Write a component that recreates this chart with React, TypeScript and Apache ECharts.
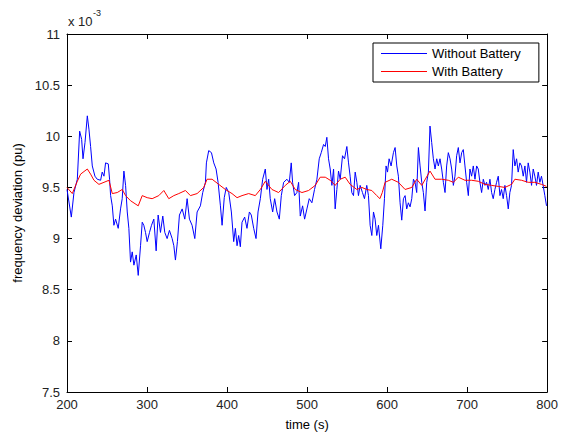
import React, { useEffect, useRef } from "react";
import * as echarts from "echarts";

const FONT = "'Liberation Sans', Arial, sans-serif";

const seriesNames = ["Without Battery", "With Battery"];
const xTicks = { min: 200, max: 800, interval: 100 };
const yTicks = { min: 7.5, max: 11, interval: 0.5 };

// time (s) and frequency deviation (x 10^-3 pu) – without battery
const blueTime = [
  200, 205.4, 208.7, 212.9, 215.8, 218.3, 220, 222.5, 225.4, 227.4, 229.5, 231.6, 234.9, 237.8, 242, 244,
  246.2, 248.2, 251.6, 253.2, 254.5, 256.6, 258.6, 260.7, 264, 266.9, 269, 271.1, 273.2, 275.3, 277.3, 279.4,
  281.5, 283.6, 286.5, 289, 291.9, 294, 296, 298.1, 300.2, 303.1, 305.6, 308.5, 311.4, 313.9, 316.8, 319.7,
  322.2, 325.1, 328, 331.4, 333.5, 335.5, 338, 340.5, 343.9, 347.2, 350.1, 353, 356.3, 359.7, 362.6, 366.7,
  369.6, 373, 374.2, 377.1, 380.5, 383.4, 386.3, 388.8, 391.7, 393.8, 396.5, 399, 402.1, 405.4, 408.3, 410.4,
  412.5, 414.5, 416.6, 418.7, 422, 424.9, 427.9, 430.3, 433.3, 436.2, 438.7, 441.6, 444.5, 447.8, 449.9, 452,
  454, 457, 459.5, 462.4, 465.3, 467.8, 470.7, 474.8, 477.8, 480.2, 481.9, 484.4, 487.3, 489.4, 491.5, 494.4,
  496.9, 499.8, 502.7, 506, 509.3, 512.3, 515.2, 517.7, 520.6, 522.7, 524.7, 526.8, 528.9, 531, 533.1, 535.1,
  537.2, 539.3, 541.4, 544.3, 546.8, 549.7, 551.8, 553.8, 555.9, 558, 560.1, 562.2, 564.2, 566.3, 569.2, 571.7,
  574.6, 576.7, 578.8, 580.9, 583, 585, 587.1, 589.2, 592.1, 594.6, 596.7, 598.7, 600.5, 602.5, 605, 607.9,
  610, 612.1, 614.1, 616.2, 618.3, 620.4, 622.5, 624.5, 626.6, 628.7, 630.8, 632.9, 634.9, 637, 639.1, 641.2,
  643.3, 645.3, 647.4, 649.5, 651.6, 653.6, 655.7, 657.8, 659.9, 662, 664, 666.1, 668.2, 670.3, 672.4, 674.4,
  676.5, 678.6, 680.7, 682.8, 684.8, 686.9, 689, 691.1, 693.2, 695.2, 697.3, 699.4, 701.5, 703.5, 705.6, 707.7,
  709.8, 711.9, 713.9, 716, 718.1, 720.2, 722.3, 724.3, 726.4, 728.5, 730.6, 732.6, 734.7, 736.8, 738.9, 741,
  743, 745.1, 747.2, 749.3, 751.4, 753.4, 755.5, 757.6, 759.7, 761.8, 763.8, 765.9, 768, 770.1, 772.2, 774.2,
  776.3, 778.4, 780.5, 782.6, 784.6, 786.7, 788.8, 790.9, 792.9, 795, 797.1, 799.2,
];
const blueValue = [
  9.48, 9.21, 9.45, 9.58, 10.05, 9.97, 9.78, 9.94, 10.2, 10.07, 9.9, 9.71, 9.61, 9.58, 9.57, 9.65,
  9.61, 9.74, 9.73, 9.58, 9.42, 9.32, 9.13, 9.19, 9.1, 9.29, 9.39, 9.66, 9.52, 9.26, 9.1, 8.77,
  8.87, 8.74, 8.84, 8.64, 8.93, 9.16, 9.13, 9.06, 8.97, 9.06, 9.13, 9.19, 8.88, 9.23, 9.06, 9.22,
  9.06, 9.0, 9.08, 9.0, 8.93, 8.79, 8.97, 9.23, 9.29, 9.19, 9.39, 9.19, 9.13, 9.0, 9.26, 9.32,
  9.45, 9.55, 9.74, 9.86, 9.84, 9.74, 9.68, 9.55, 9.32, 9.13, 9.4, 9.5, 9.45, 9.26, 8.97, 9.1,
  8.93, 9.03, 8.92, 9.16, 9.21, 9.1, 9.26, 9.23, 9.1, 9.0, 9.26, 9.39, 9.58, 9.68, 9.48, 9.58,
  9.39, 9.26, 9.39, 9.26, 9.19, 9.42, 9.55, 9.58, 9.55, 9.74, 9.55, 9.42, 9.45, 9.55, 9.22, 9.32,
  9.19, 9.29, 9.39, 9.35, 9.48, 9.58, 9.78, 9.84, 9.92, 9.9, 9.99, 9.78, 9.68, 9.52, 9.68, 9.29,
  9.48, 9.66, 9.58, 9.81, 9.78, 9.9, 9.74, 9.61, 9.45, 9.42, 9.65, 9.55, 9.42, 9.52, 9.45, 9.39,
  9.52, 9.42, 9.13, 9.03, 9.26, 9.19, 9.03, 9.13, 8.9, 9.13, 9.39, 9.71, 9.65, 9.78, 9.71, 9.84,
  9.89, 9.71, 9.61, 9.35, 9.18, 9.39, 9.42, 9.29, 9.35, 9.31, 9.39, 9.58, 9.55, 9.45, 9.89, 9.71,
  9.55, 9.45, 9.27, 9.55, 9.65, 10.1, 9.94, 9.78, 9.68, 9.78, 9.71, 9.78, 9.68, 9.55, 9.45, 9.71,
  9.84, 9.78, 9.68, 9.52, 9.61, 9.81, 9.89, 9.74, 9.84, 9.87, 9.71, 9.55, 9.42, 9.68, 9.61, 9.71,
  9.58, 9.71, 9.68, 9.55, 9.45, 9.58, 9.52, 9.55, 9.48, 9.58, 9.45, 9.39, 9.48, 9.55, 9.61, 9.42,
  9.48, 9.39, 9.52, 9.42, 9.29, 9.45, 9.52, 9.87, 9.71, 9.78, 9.65, 9.74, 9.71, 9.61, 9.71, 9.55,
  9.74, 9.65, 9.52, 9.68, 9.61, 9.52, 9.65, 9.55, 9.61, 9.52, 9.42, 9.32,
];

// with battery
const redTime = [
  200, 206.6, 212.9, 217, 225.4, 229.5, 233.7, 239.9, 246.2, 252.4, 256.6, 262.8, 269, 273.2, 279.4, 289,
  294, 300.2, 306.4, 314.7, 321, 327.2, 333.5, 339.7, 348, 354.2, 362.6, 370.9, 375, 381.3, 389.6, 397.9,
  406.2, 412.5, 418.7, 427, 435.3, 441.6, 447.8, 456.1, 464.4, 472.8, 479, 485.2, 493.6, 501.9, 510.2, 516.4,
  522.7, 528.9, 535.1, 541.4, 547.6, 553.8, 562.2, 568.4, 574.6, 580.9, 587.1, 591, 594, 597.5, 605.8, 614.1,
  622.5, 630.8, 637, 643.3, 653.6, 659.9, 668.2, 676.5, 682.8, 689, 697.3, 705.6, 713.9, 722.3, 730.6, 738.9,
  747.2, 755.5, 759.7, 768, 776.3, 784.6, 792.9, 799.2,
];
const redValue = [
  9.5, 9.44, 9.56, 9.63, 9.68, 9.63, 9.57, 9.53, 9.55, 9.57, 9.44, 9.45, 9.48, 9.42, 9.37, 9.32,
  9.42, 9.4, 9.39, 9.42, 9.47, 9.39, 9.42, 9.44, 9.47, 9.42, 9.44, 9.5, 9.58, 9.58, 9.53, 9.48,
  9.44, 9.4, 9.42, 9.44, 9.42, 9.48, 9.56, 9.48, 9.45, 9.52, 9.56, 9.48, 9.45, 9.47, 9.52, 9.6,
  9.6, 9.57, 9.52, 9.58, 9.6, 9.53, 9.48, 9.5, 9.48, 9.47, 9.42, 9.39, 9.45, 9.55, 9.58, 9.55,
  9.48, 9.5, 9.58, 9.52, 9.66, 9.58, 9.58, 9.57, 9.55, 9.6, 9.57, 9.57, 9.56, 9.53, 9.52, 9.51,
  9.5, 9.53, 9.58, 9.57, 9.55, 9.55, 9.53, 9.51,
];

const pairs = (t: number[], v: number[]) => t.map((x, i) => [x, v[i]]);

export default function App() {
  const ref = useRef<HTMLDivElement>(null);
  useEffect(() => {
    if (!ref.current) return;
    const chart = echarts.init(ref.current, null, { renderer: "svg" });
    const axisLine = { show: true, lineStyle: { color: "#000", width: 1 } };
    const tick = { show: true, inside: true, length: 5, lineStyle: { color: "#000", width: 1 } };
    const label = { color: "#222", fontSize: 13, fontFamily: FONT };
    chart.setOption({
      animation: false,
      backgroundColor: "#fff",
      grid: { left: 67, right: 12, top: 34, bottom: 42, containLabel: false },
      legend: {
        data: seriesNames,
        orient: "vertical",
        left: 373,
        top: 43,
        icon: "rect",
        itemWidth: 46,
        itemHeight: 1,
        itemGap: 5,
        padding: [4, 18, 4, 8],
        borderColor: "#000",
        borderWidth: 1,
        borderRadius: 0,
        backgroundColor: "#fff",
        textStyle: { color: "#000", fontSize: 13, fontFamily: FONT },
      },
      xAxis: [
        {
          type: "value", position: "bottom", ...xTicks,
          axisLine, axisTick: tick, splitLine: { show: false },
          axisLabel: { ...label, margin: 6 },
          name: "time (s)", nameLocation: "middle", nameGap: 26,
          nameTextStyle: { color: "#000", fontSize: 13, fontFamily: FONT },
        },
        {
          type: "value", position: "top", ...xTicks,
          axisLine, axisTick: tick, splitLine: { show: false }, axisLabel: { show: false },
        },
      ],
      yAxis: [
        {
          type: "value", position: "left", ...yTicks,
          axisLine, axisTick: tick, splitLine: { show: false },
          axisLabel: { ...label, margin: 7 },
          name: "frequency deviation (pu)", nameLocation: "middle", nameGap: 40,
          nameTextStyle: { color: "#000", fontSize: 13, fontFamily: FONT },
        },
        {
          type: "value", position: "right", ...yTicks,
          axisLine, axisTick: tick, splitLine: { show: false }, axisLabel: { show: false },
        },
      ],
      graphic: [
        {
          type: "text", left: 68, top: 15,
          style: { text: "x 10", font: `13px ${FONT}`, fill: "#222" },
        },
        {
          type: "text", left: 93, top: 8,
          style: { text: "-3", font: `9px ${FONT}`, fill: "#222" },
        },
      ],
      series: [
        {
          name: seriesNames[0], type: "line", xAxisIndex: 0, yAxisIndex: 0,
          data: pairs(blueTime, blueValue), symbol: "none", showSymbol: false,
          lineStyle: { color: "#0000ff", width: 1 }, itemStyle: { color: "#0000ff" }, z: 2,
        },
        {
          name: seriesNames[1], type: "line", xAxisIndex: 0, yAxisIndex: 0,
          data: pairs(redTime, redValue), symbol: "none", showSymbol: false,
          lineStyle: { color: "#ff0000", width: 1 }, itemStyle: { color: "#ff0000" }, z: 3,
        },
      ],
    });
    return () => chart.dispose();
  }, []);
  return (
    <div
      ref={ref}
      style={{ position: "fixed", left: 0, top: 0, width: 561, height: 436, background: "#fff" }}
    />
  );
}
